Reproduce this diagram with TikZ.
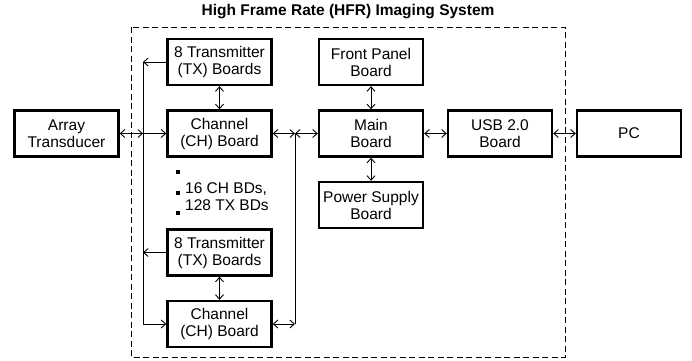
\documentclass[tikz,border=0pt]{standalone}
\usepackage{fontspec}
\setmainfont{Liberation Sans}
\usetikzlibrary{arrows.meta}
\begin{document}
\begin{tikzpicture}[x=1pt,y=-1pt,
  every node/.style={font=\fontsize{15.5}{17}\selectfont},
  board/.style={draw, line width=2.4pt, minimum width=104pt, minimum height=46pt, align=center, inner sep=0pt},
  conn/.style={line width=0.9pt},
  tip/.style={arrows={-Straight Barb[length=4.5pt,width=8pt]}},
  both/.style={arrows={Straight Barb[length=4.5pt,width=8pt]-Straight Barb[length=4.5pt,width=8pt]}},
  dot/.style={fill, minimum size=3.2pt, inner sep=0pt}]
\useasboundingbox (0,0) rectangle (692,360);
% dashed enclosure
\draw[dashed, line width=0.9pt, dash pattern=on 6pt off 3.5pt] (131,27) rectangle (565,357);
\node[font=\bfseries\fontsize{15.5}{17}\selectfont] (title) at (348,12) {High Frame Rate (HFR) Imaging System};
% boxes
\node[board] (arr)  at (66.5,133.5) {Array\\Transducer};
\node[board] (tx1)  at (219.5,62)   {8 Transmitter\\(TX) Boards};
\node[board] (ch1)  at (219.5,133.5){Channel\\(CH) Board};
\node[board] (tx2)  at (219.5,252.5){8 Transmitter\\(TX) Boards};
\node[board] (ch2)  at (219.5,324)  {Channel\\(CH) Board};
\node[board] (fp)   at (371,62)     {Front Panel\\Board};
\node[board] (main) at (371,133.5)  {Main\\Board};
\node[board] (ps)   at (371,205)    {Power Supply\\Board};
\node[board] (usb)  at (500,133.5)  {USB 2.0\\Board};
\node[board] (pc)   at (629,133.5)  {PC};
% dots and note
\node[dot] (d1) at (178,172) {};
\node[dot] (d2) at (178,193) {};
\node[dot] (d3) at (178,213) {};
\node[anchor=west, align=left, inner sep=0pt] (note) at (185,197) {16 CH BDs,\\128 TX BDs};
% bus coordinates
\coordinate (lbt) at (143,62);
\coordinate (lbm) at (143,133.5);
\coordinate (lbx) at (143,252.5);
\coordinate (lbb) at (143,324);
\coordinate (rbt) at (295,133.5);
\coordinate (rbb) at (295,324);
% left bus
\draw[conn] (lbt) -- (lbb);
\draw[conn,tip] (lbb) -- (ch2.west);
\draw[conn,tip] (tx1.west) -- (lbt);
\draw[conn,tip] (tx2.west) -- (lbx);
\draw[conn,both] (arr.east) -- (lbm);
\draw[conn,tip] (lbm) -- (ch1.west);
% vertical pairs
\draw[conn,both] (tx1.south) -- (ch1.north);
\draw[conn,both] (tx2.south) -- (ch2.north);
% right bus
\draw[conn] (rbt) -- (rbb);
\draw[conn,both] (ch1.east) -- (rbt);
\draw[conn,both] (rbt) -- (main.west);
\draw[conn,both] (ch2.east) -- (rbb);
% main connections
\draw[conn,both] (fp.south) -- (main.north);
\draw[conn,both] (main.south) -- (ps.north);
\draw[conn,both] (main.east) -- (usb.west);
\draw[conn,both] (usb.east) -- (pc.west);
\end{tikzpicture}
\end{document}
